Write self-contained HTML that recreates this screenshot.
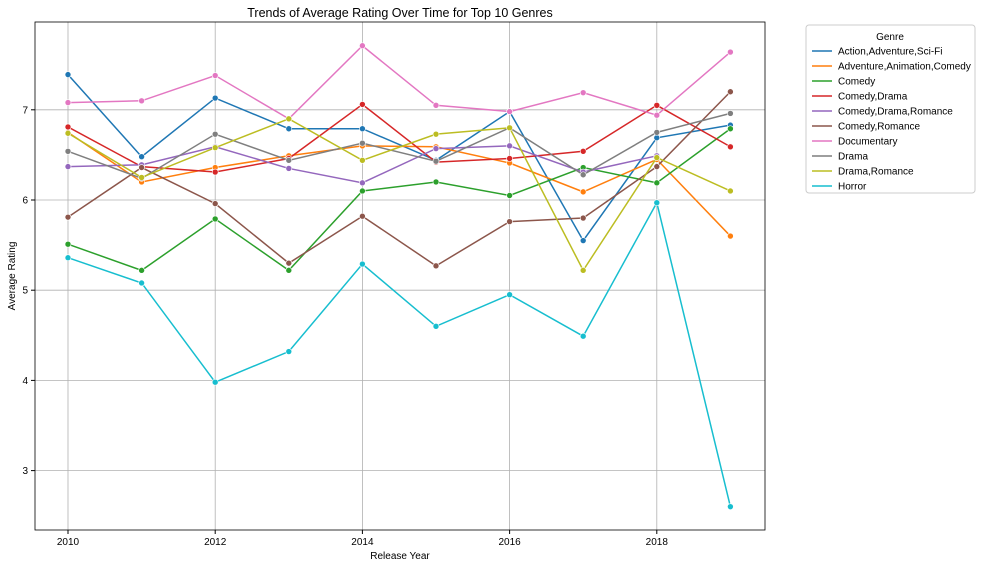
<!DOCTYPE html>
<html><head><meta charset="utf-8"><style>
body{margin:0;background:#fff;font-family:"Liberation Sans",sans-serif;}
svg text{font-family:"Liberation Sans",sans-serif;fill:#000;}
</style></head><body>
<svg id="chart" width="998" height="568">
<text x="400" y="17" font-size="12.5" text-anchor="middle">Trends of Average Rating Over Time for Top 10 Genres</text>
<g id="grid"></g><g id="axes"></g><g id="series"></g>
<rect x="35" y="22" width="730" height="508" fill="none" stroke="#000" stroke-width="0.8"/>
<text x="400" y="559" font-size="10" text-anchor="middle">Release Year</text>
<text x="15" y="276" font-size="10" text-anchor="middle" transform="rotate(-90 15 276)">Average Rating</text>
<g id="legend"></g>
</svg>
<script>
const years=[2010,2011,2012,2013,2014,2015,2016,2017,2018,2019];
const xTicks=[2010,2012,2014,2016,2018];
const yTicks=[3,4,5,6,7];
const genres=["Action,Adventure,Sci-Fi","Adventure,Animation,Comedy","Comedy","Comedy,Drama","Comedy,Drama,Romance","Comedy,Romance","Documentary","Drama","Drama,Romance","Horror"];
const colors=["#1f77b4","#ff7f0e","#2ca02c","#d62728","#9467bd","#8c564b","#e377c2","#7f7f7f","#bcbd22","#17becf"];
const sActionAdvSciFi=[7.39,6.48,7.13,6.79,6.79,6.44,6.98,5.55,6.69,6.83];
const sAdvAnimComedy=[6.75,6.2,6.36,6.49,6.6,6.59,6.41,6.09,6.45,5.6];
const sComedy=[5.51,5.22,5.79,5.22,6.1,6.2,6.05,6.36,6.19,6.79];
const sComedyDrama=[6.81,6.37,6.31,6.46,7.06,6.42,6.46,6.54,7.05,6.59];
const sComedyDramaRomance=[6.37,6.39,6.59,6.35,6.19,6.57,6.6,6.31,6.49,null];
const sComedyRomance=[5.81,6.36,5.96,5.3,5.82,5.27,5.76,5.8,6.37,7.2];
const sDocumentary=[7.08,7.1,7.38,6.9,7.71,7.05,6.98,7.19,6.94,7.64];
const sDrama=[6.54,6.24,6.73,6.44,6.63,6.43,6.8,6.28,6.75,6.96];
const sDramaRomance=[6.74,6.25,6.58,6.9,6.44,6.73,6.8,5.22,6.47,6.1];
const sHorror=[5.36,5.08,3.98,4.32,5.29,4.6,4.95,4.49,5.97,2.6];
const series=[sActionAdvSciFi,sAdvAnimComedy,sComedy,sComedyDrama,sComedyDramaRomance,sComedyRomance,sDocumentary,sDrama,sDramaRomance,sHorror];
const NS="http://www.w3.org/2000/svg";
const X=v=>68+(v-2010)*73.6;
const Y=v=>200-(v-6)*90.2;
function mk(tag,attrs,parent){const e=document.createElementNS(NS,tag);for(const k in attrs)e.setAttribute(k,attrs[k]);document.getElementById(parent).appendChild(e);return e;}
xTicks.forEach(t=>{
 const g=mk('line',{x1:X(t),x2:X(t),y1:22,y2:530,stroke:'#b0b0b0','stroke-width':0.8},'grid');
 
 
 mk('line',{x1:X(t),x2:X(t),y1:530,y2:534,stroke:'#000'},'axes');
 const tx=mk('text',{x:X(t),y:545,'font-size':10,'text-anchor':'middle'},'axes');tx.textContent=t;
 
 
});
yTicks.forEach(t=>{
 const g=mk('line',{x1:35,x2:765,y1:Y(t),y2:Y(t),stroke:'#b0b0b0','stroke-width':0.8},'grid');
 
 
 mk('line',{x1:31,x2:35,y1:Y(t),y2:Y(t),stroke:'#000'},'axes');
 const tx=mk('text',{x:28,y:Y(t)+3.5,'font-size':10,'text-anchor':'end'},'axes');tx.textContent=t;
 
 
});
series.forEach((s,i)=>{
 let d='';s.forEach((v,j)=>{if(v==null)return;d+=(d?'L':'M')+X(years[j])+','+Y(v);});
 const p=mk('path',{d:d,fill:'none',stroke:colors[i],'stroke-width':1.5},'series');
 
 
 s.forEach((v,j)=>{if(v==null)return;
  const c=mk('circle',{cx:X(years[j]),cy:Y(v),r:3,fill:colors[i],stroke:'#fff','stroke-width':0.6},'series');
  
  
 });
});
const lb=mk('rect',{x:806,y:25,width:169,height:168,rx:3,fill:'#fff',stroke:'#ccc'},'legend');


const lt=mk('text',{x:890,y:40,'font-size':10,'text-anchor':'middle'},'legend');lt.textContent='Genre';


genres.forEach((g,i)=>{
 const y=51+i*15;
 const l=mk('line',{x1:812,x2:832,y1:y,y2:y,stroke:colors[i],'stroke-width':1.5},'legend');
 
 
 const t=mk('text',{x:838,y:y+3.5,'font-size':10},'legend');t.textContent=g;
 
 
});
</script>
</body></html>
